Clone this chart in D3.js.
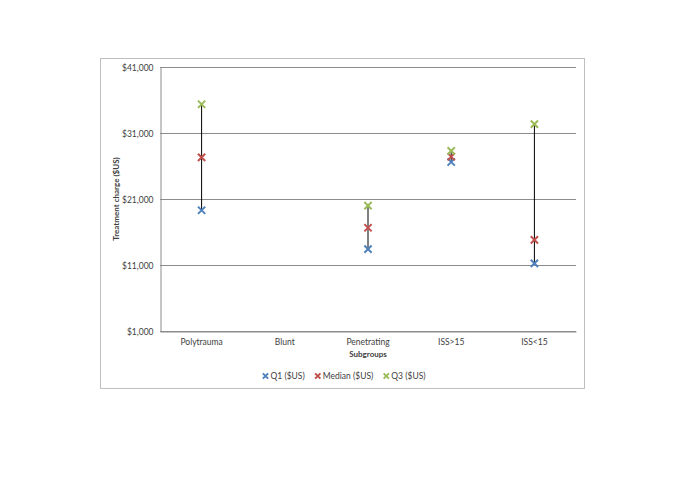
<!DOCTYPE html>
<html lang="en">
<head>
    <meta charset="UTF-8">
    <title>Treatment charge by subgroup</title>
    <script src="https://d3js.org/d3.v7.min.js"></script>
</head>
<style>
    body { margin: 0; background: #fff; }
    text { font-family: Lato, "Open Sans", sans-serif; fill: #404040; }
    .grid line { stroke: #8c8c8c; stroke-width: 1px; }
</style>
<body>
<svg width="685" height="484"></svg>
<script>
    var categories = ["Polytrauma", "Blunt", "Penetrating", "ISS>15", "ISS<15"];
    var q1 = [19300, null, 13400, 26600, 11250];
    var median = [27300, null, 16650, 27400, 14800];
    var q3 = [35350, null, 20000, 28300, 32350];
    var yTicks = [1000, 11000, 21000, 31000, 41000];
    var seriesNames = ["Q1 ($US)", "Median ($US)", "Q3 ($US)"];
    var seriesColors = ["#4f81bd", "#c0504d", "#9bbb59"];

    var svg = d3.select("svg");

    // chart frame
    svg.append("rect")
        .attr("x", 100.5).attr("y", 58.5)
        .attr("width", 484).attr("height", 330)
        .attr("fill", "none").attr("stroke", "#bfbfbf").attr("stroke-width", 1);

    var plotLeft = 160, plotRight = 576, plotTop = 67, plotBottom = 331;

    var x = d3.scaleBand().domain(categories).range([plotLeft, plotRight]);
    var y = d3.scaleLinear().domain([1000, 41000]).range([plotBottom, plotTop]);

    // gridlines
    svg.append("g").attr("class", "grid")
        .selectAll("line")
        .data(yTicks)
        .enter().append("line")
        .attr("x1", plotLeft).attr("x2", plotRight)
        .attr("y1", function(d) { return Math.round(y(d)) + 0.5; })
        .attr("y2", function(d) { return Math.round(y(d)) + 0.5; });

    // y axis
    var yAxis = svg.append("g")
        .attr("transform", "translate(" + (plotLeft + 0.5) + ",0.5)")
        .call(d3.axisLeft(y).tickValues(yTicks).tickSize(0).tickPadding(7)
            .tickFormat(function(d) { return "$" + d3.format(",")(d); }));
    yAxis.select(".domain").attr("stroke", "#8c8c8c");
    yAxis.selectAll("text").style("font-size", "8.5px").attr("fill", "#404040")
        .style("font-family", "Lato, sans-serif");

    // x axis
    var xAxis = svg.append("g")
        .attr("transform", "translate(0," + (plotBottom + 0.5) + ")")
        .call(d3.axisBottom(x).tickSize(0).tickPadding(7));
    xAxis.select(".domain").attr("stroke", "#8c8c8c");
    xAxis.selectAll("text").style("font-size", "8.5px").attr("fill", "#404040")
        .style("font-family", "Lato, sans-serif");

    // axis titles
    svg.append("text")
        .attr("transform", "translate(119," + ((plotTop + plotBottom) / 2) + ") rotate(-90)")
        .attr("text-anchor", "middle")
        .style("font-size", "8px").style("font-weight", "bold").attr("fill", "#222")
        .text("Treatment charge ($US)");

    svg.append("text")
        .attr("x", (plotLeft + plotRight) / 2).attr("y", 357)
        .attr("text-anchor", "middle")
        .style("font-size", "8px").style("font-weight", "bold").attr("fill", "#222")
        .text("Subgroups");

    // high-low lines
    var rows = categories.map(function(c, i) {
        return { cat: c, vals: [q1[i], median[i], q3[i]] };
    }).filter(function(r) { return r.vals[0] != null; });

    svg.append("g").selectAll("line")
        .data(rows)
        .enter().append("line")
        .attr("x1", function(d) { return x(d.cat) + x.bandwidth() / 2; })
        .attr("x2", function(d) { return x(d.cat) + x.bandwidth() / 2; })
        .attr("y1", function(d) { return y(d3.min(d.vals)); })
        .attr("y2", function(d) { return y(d3.max(d.vals)); })
        .attr("stroke", "#000").attr("stroke-width", 1);

    // X markers
    var sym = d3.symbol().type(d3.symbolX).size(36);
    var seriesData = [q1, median, q3];
    seriesData.forEach(function(arr, s) {
        svg.append("g").selectAll("path")
            .data(categories.map(function(c, i) { return { cat: c, v: arr[i] }; })
                .filter(function(d) { return d.v != null; }))
            .enter().append("path")
            .attr("d", sym)
            .attr("transform", function(d) {
                return "translate(" + (x(d.cat) + x.bandwidth() / 2) + "," + y(d.v) + ")";
            })
            .attr("fill", "none")
            .attr("stroke", seriesColors[s])
            .attr("stroke-width", 2);
    });

    // legend, laid out from measured text widths and centred on the plot
    var legend = svg.append("g");
    var cursor = 0;
    seriesNames.forEach(function(name, i) {
        var g = legend.append("g").attr("transform", "translate(" + cursor + ",0)");
        g.append("path")
            .attr("d", d3.symbol().type(d3.symbolX).size(20))
            .attr("transform", "translate(3,-3)")
            .attr("fill", "none").attr("stroke", seriesColors[i]).attr("stroke-width", 2);
        var t = g.append("text")
            .attr("x", 8).attr("y", 0)
            .style("font-size", "8.5px").attr("fill", "#404040")
            .text(name);
        cursor += 8 + t.node().getComputedTextLength() + 10;
    });
    var legendWidth = cursor - 10;
    legend.attr("transform", "translate(" + (344 - legendWidth / 2) + ",379)");
</script>
</body>
</html>
